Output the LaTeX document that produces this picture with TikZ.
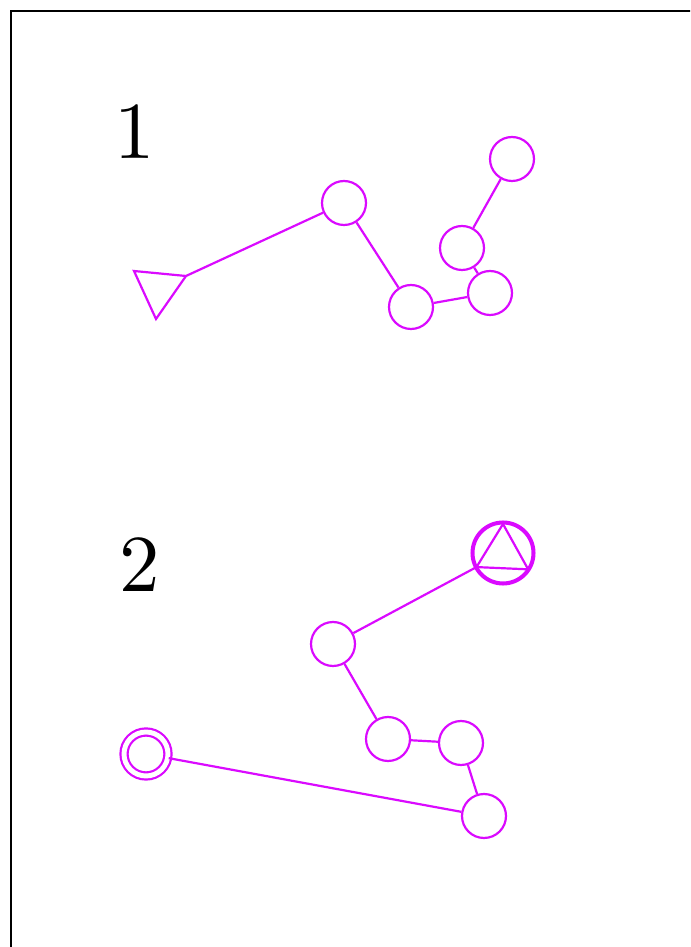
\documentclass[tikz,border=0pt]{standalone}
\usepackage{tikz}
\usetikzlibrary{calc}
\definecolor{pur}{RGB}{218,10,255}
\font\bignum=cmr10 at 46pt
\tikzset{
  vert/.style={draw=pur, circle, line width=1.25pt, inner sep=0pt, minimum size=0.88cm},
  edge/.style={draw=pur, line width=1.25pt},
  numlab/.style={anchor=base, inner sep=0pt, font=\bignum}
}
\begin{document}
\begin{tikzpicture}[x=0.02cm, y=0.02cm]
            \useasboundingbox (0,0) rectangle (690,947);
            \clip (0,0) rectangle (690,947);
            \draw[line width=1.4pt] (11,-20) -- (11,936) -- (720,936);

            \draw (135,788) node[numlab]                       (one) {1};
            \coordinate (t1) at (134,676);
            \coordinate (t2) at (186,671);
            \coordinate (t3) at (156,628);
            \draw (344,744) node[vert]                           (a) {};
            \draw (411,640) node[vert]                           (b) {};
            \draw (490,654) node[vert]                           (c) {};
            \draw (462,699) node[vert]                           (d) {};
            \draw (512,788) node[vert]                           (e) {};
            \draw[edge, line join=miter] (t1) -- (t2) -- (t3) -- cycle;
            \draw[edge] (t2) -- (a);
            \draw[edge] (a) -- (b);
            \draw[edge] (b) -- (c);
            \draw[edge] (c) -- (d);
            \draw[edge] (d) -- (e);

            \draw (140,355) node[numlab]                       (two) {2};
            \draw (503,394) node[vert, line width=2.3pt, minimum size=1.22cm] (g) {};
            \draw (333,303) node[vert]                           (f) {};
            \draw (388,208) node[vert]                           (h) {};
            \draw (461,204) node[vert]                           (i) {};
            \draw (484,131) node[vert]                           (j) {};
            \draw (146,193) node[vert, double, double distance=2.8pt] (s) {};
            \draw[edge] ($(g)+(90:29)$) -- ($(g)+(208:30)$) -- ($(g)+(327:30)$) -- cycle;
            \draw[edge] (f) -- ($(g)+(208:30)$);
            \draw[edge] (f) -- (h);
            \draw[edge] (h) -- (i);
            \draw[edge] (i) -- (j);
            \draw[edge] (j) -- (s);

            \end{tikzpicture}
\end{document}
